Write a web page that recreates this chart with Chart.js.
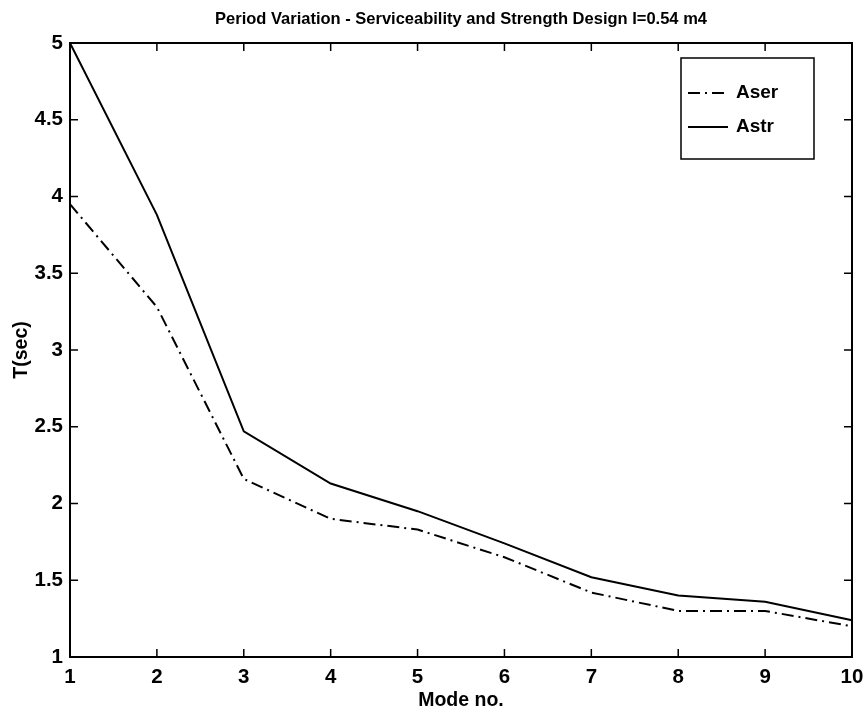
<!DOCTYPE html>
<html>
<head>
<meta charset="utf-8">
<script src="https://cdn.jsdelivr.net/npm/chart.js@4.4.1/dist/chart.umd.min.js"></script>
<style>
  html, body { margin: 0; padding: 0; background: #fff; }
  canvas { display: block; }
</style>
</head>
<body>
<canvas id="periodChart" width="866" height="714"></canvas>
<script>
// mode numbers and periods (sec)
const modes = [1, 2, 3, 4, 5, 6, 7, 8, 9, 10];
const aser = [3.95, 3.28, 2.16, 1.90, 1.83, 1.65, 1.42, 1.30, 1.30, 1.20];
const astr = [5.00, 3.88, 2.47, 2.13, 1.95, 1.74, 1.52, 1.40, 1.36, 1.24];
const yTicks = [1, 1.5, 2, 2.5, 3, 3.5, 4, 4.5, 5];

const chartTitle = "Period Variation - Serviceability and Strength Design I=0.54 m4";
const fontFamily = "'Liberation Sans', Arial, Helvetica, sans-serif";

// box round the plot area, inward ticks on all four sides, title
const framePlugin = {
    id: "frame",
    afterDraw(chart) {
        const ctx = chart.ctx;
        const area = chart.chartArea;
        const xs = chart.scales.x;
        const ys = chart.scales.y;
        const tickLen = 8;

        ctx.save();
        ctx.strokeStyle = "#000";
        ctx.lineWidth = 2;
        ctx.strokeRect(area.left, area.top, area.right - area.left, area.bottom - area.top);

        ctx.lineWidth = 1.5;
        ctx.beginPath();
        xs.ticks.forEach((t, i) => {
            const px = xs.getPixelForTick(i);
            ctx.moveTo(px, area.bottom);
            ctx.lineTo(px, area.bottom - tickLen);
            ctx.moveTo(px, area.top);
            ctx.lineTo(px, area.top + tickLen);
        });
        ys.ticks.forEach((t, i) => {
            const py = ys.getPixelForTick(i);
            ctx.moveTo(area.left, py);
            ctx.lineTo(area.left + tickLen, py);
            ctx.moveTo(area.right, py);
            ctx.lineTo(area.right - tickLen, py);
        });
        ctx.stroke();

        ctx.fillStyle = "#000";
        ctx.font = "bold 16.5px " + fontFamily;
        ctx.textAlign = "center";
        ctx.textBaseline = "middle";
        ctx.fillText(chartTitle, (area.left + area.right) / 2, 19);
        ctx.restore();
    }
};

// legend box in the top right corner of the plot
const boxLegendPlugin = {
    id: "boxLegend",
    afterDraw(chart) {
        const ctx = chart.ctx;
        const box = { x: 681, y: 58, w: 133, h: 101 };

        ctx.save();
        ctx.fillStyle = "#fff";
        ctx.fillRect(box.x, box.y, box.w, box.h);
        ctx.strokeStyle = "#000";
        ctx.lineWidth = 1.5;
        ctx.strokeRect(box.x, box.y, box.w, box.h);

        ctx.font = "bold 19px " + fontFamily;
        ctx.textBaseline = "middle";
        ctx.textAlign = "left";
        chart.data.datasets.forEach((ds, i) => {
            const y = box.y + 35 + i * 34;
            ctx.beginPath();
            ctx.setLineDash(ds.borderDash || []);
            ctx.lineWidth = ds.borderWidth;
            ctx.moveTo(box.x + 7, y);
            ctx.lineTo(box.x + 47, y);
            ctx.stroke();
            ctx.setLineDash([]);
            ctx.fillStyle = "#000";
            ctx.fillText(ds.label, box.x + 55, y);
        });
        ctx.restore();
    }
};

new Chart(document.getElementById("periodChart").getContext("2d"), {
    type: "line",
    data: {
        labels: modes,
        datasets: [
            {
                label: "Aser",
                data: aser,
                borderColor: "#000",
                borderWidth: 2,
                borderDash: [12, 5, 2, 5],
                pointRadius: 0,
                tension: 0,
                fill: false
            },
            {
                label: "Astr",
                data: astr,
                borderColor: "#000",
                borderWidth: 2,
                pointRadius: 0,
                tension: 0,
                fill: false
            }
        ]
    },
    options: {
        responsive: false,
        animation: false,
        layout: { padding: { top: 43, right: 14, left: 0, bottom: 0 } },
        plugins: {
            legend: { display: false },
            title: { display: false },
            tooltip: { enabled: false }
        },
        scales: {
            x: {
                type: "category",
                offset: false,
                grid: { display: false, drawTicks: false },
                border: { display: false },
                ticks: {
                    color: "#000",
                    padding: 8,
                    maxRotation: 0,
                    autoSkip: false,
                    font: { family: fontFamily, size: 20.5, weight: "bold" }
                },
                title: {
                    display: true,
                    text: "Mode no.",
                    color: "#000",
                    padding: { top: 0, bottom: 2 },
                    font: { family: fontFamily, size: 19.5, weight: "bold" }
                },
                afterFit(scale) {
                    scale.height = 57;
                    scale.paddingLeft = 0;
                    scale.paddingRight = 0;
                }
            },
            y: {
                min: 1,
                max: 5,
                grid: { display: false, drawTicks: false },
                border: { display: false },
                afterBuildTicks(scale) {
                    scale.ticks = yTicks.map(v => ({ value: v }));
                },
                ticks: {
                    color: "#000",
                    padding: 7,
                    callback: v => String(v),
                    font: { family: fontFamily, size: 20.5, weight: "bold" }
                },
                title: {
                    display: true,
                    text: "T(sec)",
                    color: "#000",
                    padding: { top: 10, bottom: 0 },
                    font: { family: fontFamily, size: 19.5, weight: "bold" }
                },
                afterFit(scale) {
                    scale.width = 70;
                    scale.paddingTop = 0;
                    scale.paddingBottom = 0;
                }
            }
        }
    },
    plugins: [framePlugin, boxLegendPlugin]
});
</script>
</body>
</html>
